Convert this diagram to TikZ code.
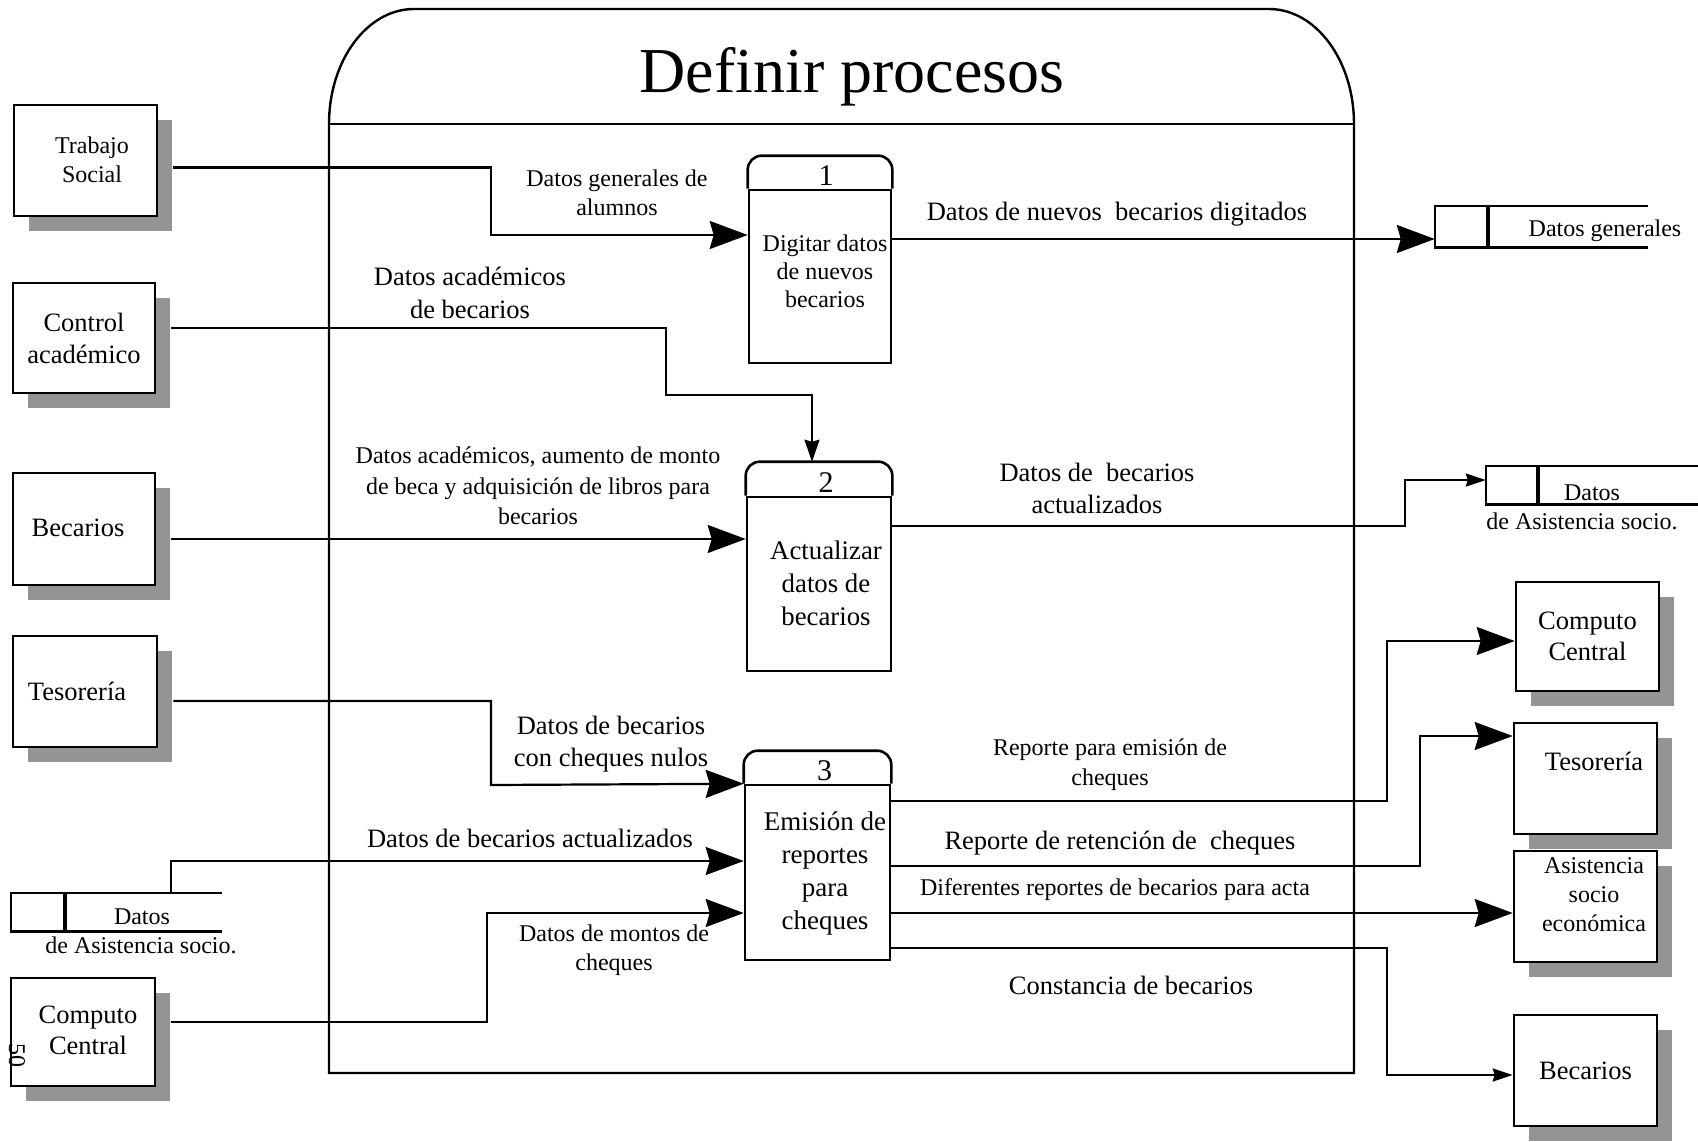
\documentclass[tikz,border=0pt]{standalone}
\usepackage{fontspec}
\setmainfont{Liberation Serif}
\usetikzlibrary{arrows.meta,shadows,calc}

\begin{document}
\begin{tikzpicture}[x=1pt,y=-1pt,
  lbl/.style={font=\fontsize{24}{29}\selectfont, align=center, inner sep=0pt},
  lblb/.style={font=\fontsize{26.5}{32}\selectfont, align=center, inner sep=0pt},
  ent/.style={draw, line width=2.6pt, fill=white, inner sep=0pt, align=center,
    font=\fontsize{26.5}{31}\selectfont,
    drop shadow={shadow xshift=15pt, shadow yshift=-15pt, fill=black!42, opacity=1}},
  proc/.style={draw, line width=2.6pt, inner sep=0pt},
  ptext/.style={align=center, inner sep=0pt},
  boxline/.style={line width=2.6pt},
  pnum/.style={font=\fontsize{30}{30}\selectfont, inner sep=0pt, anchor=base},
  store/.style={inner sep=0pt, draw=none},
  storeline/.style={line width=2.6pt},
  divider/.style={line width=3.6pt},
  frame/.style={line width=2.4pt},
  flow/.style={line width=2.2pt},
  big/.tip={Stealth[length=38pt,width=28pt,inset=4pt]},
  med/.tip={Stealth[length=22pt,width=15pt,inset=2pt]},
  small/.tip={Stealth[length=20pt,width=13pt,inset=2pt]}
]
\fill[white] (0,0) rectangle (1698,1141);
\useasboundingbox (0,0) rectangle (1698,1141);

% process frame with its title band
\draw[frame] (329,1073) -- (329,124)
  arc[start angle=180, end angle=270, x radius=85, y radius=115]
  -- (1269,9)
  arc[start angle=270, end angle=360, x radius=85, y radius=115]
  -- (1354,1073) -- cycle;
\draw[frame] (329,124) -- (1354,124);
\node[font=\fontsize{64}{70}\selectfont, anchor=base, inner sep=0pt] (title) at (852,92) {Definir procesos};

% external entities, left
\node[ent, minimum width=143pt, minimum height=111pt] (ts) at (85.5,160.5) {};
\node[lbl] (tst) at (92,159.5) {Trabajo\\Social};
\node[ent, font=\fontsize{26.5}{32}\selectfont, minimum width=142pt, minimum height=110pt] (ca) at (84,338) {Control\\académico};
\node[ent, minimum width=142pt, minimum height=112pt] (becL) at (84,529) {};
\node[lblb] (becLt) at (78,528) {Becarios};
\node[ent, minimum width=144pt, minimum height=111pt] (tesL) at (85,691.5) {};
\node[lblb] (tesLt) at (77,691) {Tesorería};
\node[ent, minimum width=144pt, minimum height=108pt] (ccL) at (83,1032) {};
\node[lblb, font=\fontsize{26.5}{31}\selectfont] (ccLt) at (88,1030.5) {Computo\\Central};

% external entities, right
\node[ent, minimum width=143pt, minimum height=109pt] (ccR) at (1587.5,636.5) {Computo\\Central};
\node[ent, minimum width=143pt, minimum height=111pt] (tesR) at (1585.5,778.5) {};
\node[lblb] (tesRt) at (1594,761) {Tesorería};
\node[ent, minimum width=143pt, minimum height=111pt] (asR) at (1585.5,906.5) {};
\node[lbl] (asRt) at (1594,895) {Asistencia\\socio\\económica};
\node[ent, minimum width=143pt, minimum height=111pt] (becR) at (1585.5,1070.5) {Becarios};

% processes: body node, rounded cap, number, text
\node[proc, minimum width=142pt, minimum height=173pt] (p1) at (820,276.5) {};
\node[proc, minimum width=144pt, minimum height=174pt] (p2) at (819,584) {};
\node[proc, minimum width=145pt, minimum height=175pt] (p3) at (817.5,872.5) {};
\foreach \p/\h in {p1/33,p2/34,p3/33}{
  \draw[boxline] (\p.north west) [rounded corners=14pt] -- ++(0,-\h)
    -- ($(\p.north east)+(0,-\h)$) [sharp corners] -- (\p.north east);
}
\coordinate (p2cap) at ($(p2.north)+(0,-34)$);
\node[pnum] (p1n) at ($(p1.north)+(6,-3)$) {1};
\node[pnum] (p2n) at ($(p2.north)+(7,-3)$) {2};
\node[pnum] (p3n) at ($(p3.north)+(7,-3)$) {3};
\node[ptext, font=\fontsize{24}{28}\selectfont] (p1t) at (825,271) {Digitar datos\\de nuevos\\becarios};
\node[ptext, font=\fontsize{26.8}{33}\selectfont] (p2t) at (826,583) {Actualizar\\datos de\\becarios};
\node[ptext, font=\fontsize{27}{33}\selectfont] (p3t) at (825,873) {Emisión de\\reportes\\para\\cheques};

% data stores
\node[store, minimum width=211pt, minimum height=38pt] (dsL) at (116.5,912) {};
\node[store, minimum width=213pt, minimum height=41pt] (dsG) at (1541.5,226.5) {};
\node[store, minimum width=212pt, minimum height=38pt] (dsA) at (1592,485) {};
\foreach \s/\d in {dsL/54,dsG/53,dsA/52}{
  \draw[storeline] (\s.north east) -- (\s.north west) -- (\s.south west) -- (\s.south east);
  \draw[divider] ($(\s.north west)+(\d,0)$) -- ($(\s.south west)+(\d,0)$);
}
\node[lbl] (dsLa) at (142,917) {Datos};
\node[lbl] (dsLb) at (141,945) {de Asistencia socio.};
\node[lbl] (dsGa) at (1605,231) {Datos generales};
\node[lbl] (dsAa) at (1592,493) {Datos};
\node[lbl] (dsAb) at (1582,521) {de Asistencia socio.};

% data flows
\draw[flow, -{big}] ($(ts.east)+(15,7)$) -| (491,235) -- (p1.west |- 0,235);
\draw[flow, -{med}] ($(ca.east)+(15,-10)$) -| (666,395) -| (812,0 |- p2cap);
\draw[flow, -{big}] ($(becL.east)+(15,10)$) -- (p2.west |- 0,539);
\draw[flow, -{big}] ($(tesL.east)+(15,9.5)$) -| (491,785) -- (p3.north west);
\draw[flow, -{big}] (171,0 |- dsL.north) -- (171,861) -- (p3.west |- 0,861);
\draw[flow, -{big}] ($(ccL.east)+(15,-10)$) -| (487,913) -- (p3.west |- 0,913);
\draw[flow, -{big}] (p1.east |- 0,239) -- (dsG.west |- 0,239);
\draw[flow, -{small}] (p2.east |- 0,526) -| (1405,480) -- (dsA.west |- 0,480);
\draw[flow, -{big}] (p3.east |- 0,801) -| (1387,641) -- (ccR.west |- 0,641);
\draw[flow, -{big}] (p3.east |- 0,866) -| (1420,736) -- (tesR.west |- 0,736);
\draw[flow, -{big}] (p3.east |- 0,913) -- (asR.west |- 0,913);
\draw[flow, -{small}] (p3.east |- 0,948) -| (1387,1075) -- (becR.west |- 0,1075);

% flow labels
\node[lbl] (l1) at (617,193) {Datos generales de\\alumnos};
\node[lblb, font=\fontsize{26.5}{33}\selectfont] (l2) at (470,292.5) {Datos académicos\\de becarios};
\node[lbl, font=\fontsize{24}{30.5}\selectfont] (l3) at (538,486) {Datos académicos, aumento de monto\\de beca y adquisición de libros para\\becarios};
\node[lblb] (l4) at (611,744) {Datos de becarios\\con cheques nulos};
\node[lblb] (l5) at (530,838) {Datos de becarios actualizados};
\node[lbl] (l6) at (614,950.5) {Datos de montos de\\cheques};
\node[lblb] (l7) at (1117,214) {Datos de nuevos\ \ becarios digitados};
\node[lblb] (l8) at (1097,488) {Datos de\ \ becarios\\actualizados};
\node[lbl, font=\fontsize{24}{30}\selectfont] (l9) at (1110,765) {Reporte para emisión de\\cheques};
\node[lblb] (l10) at (1120,843) {Reporte de retención de\ \ cheques};
\node[lbl] (l11) at (1115,890) {Diferentes reportes de becarios para acta};
\node[lblb] (l12) at (1131,985) {Constancia de becarios};

% page number printed sideways
\node[rotate=-90, font=\fontsize{24}{24}\selectfont, inner sep=0pt] (pg) at (17,1055) {50};
\end{tikzpicture}
\end{document}
